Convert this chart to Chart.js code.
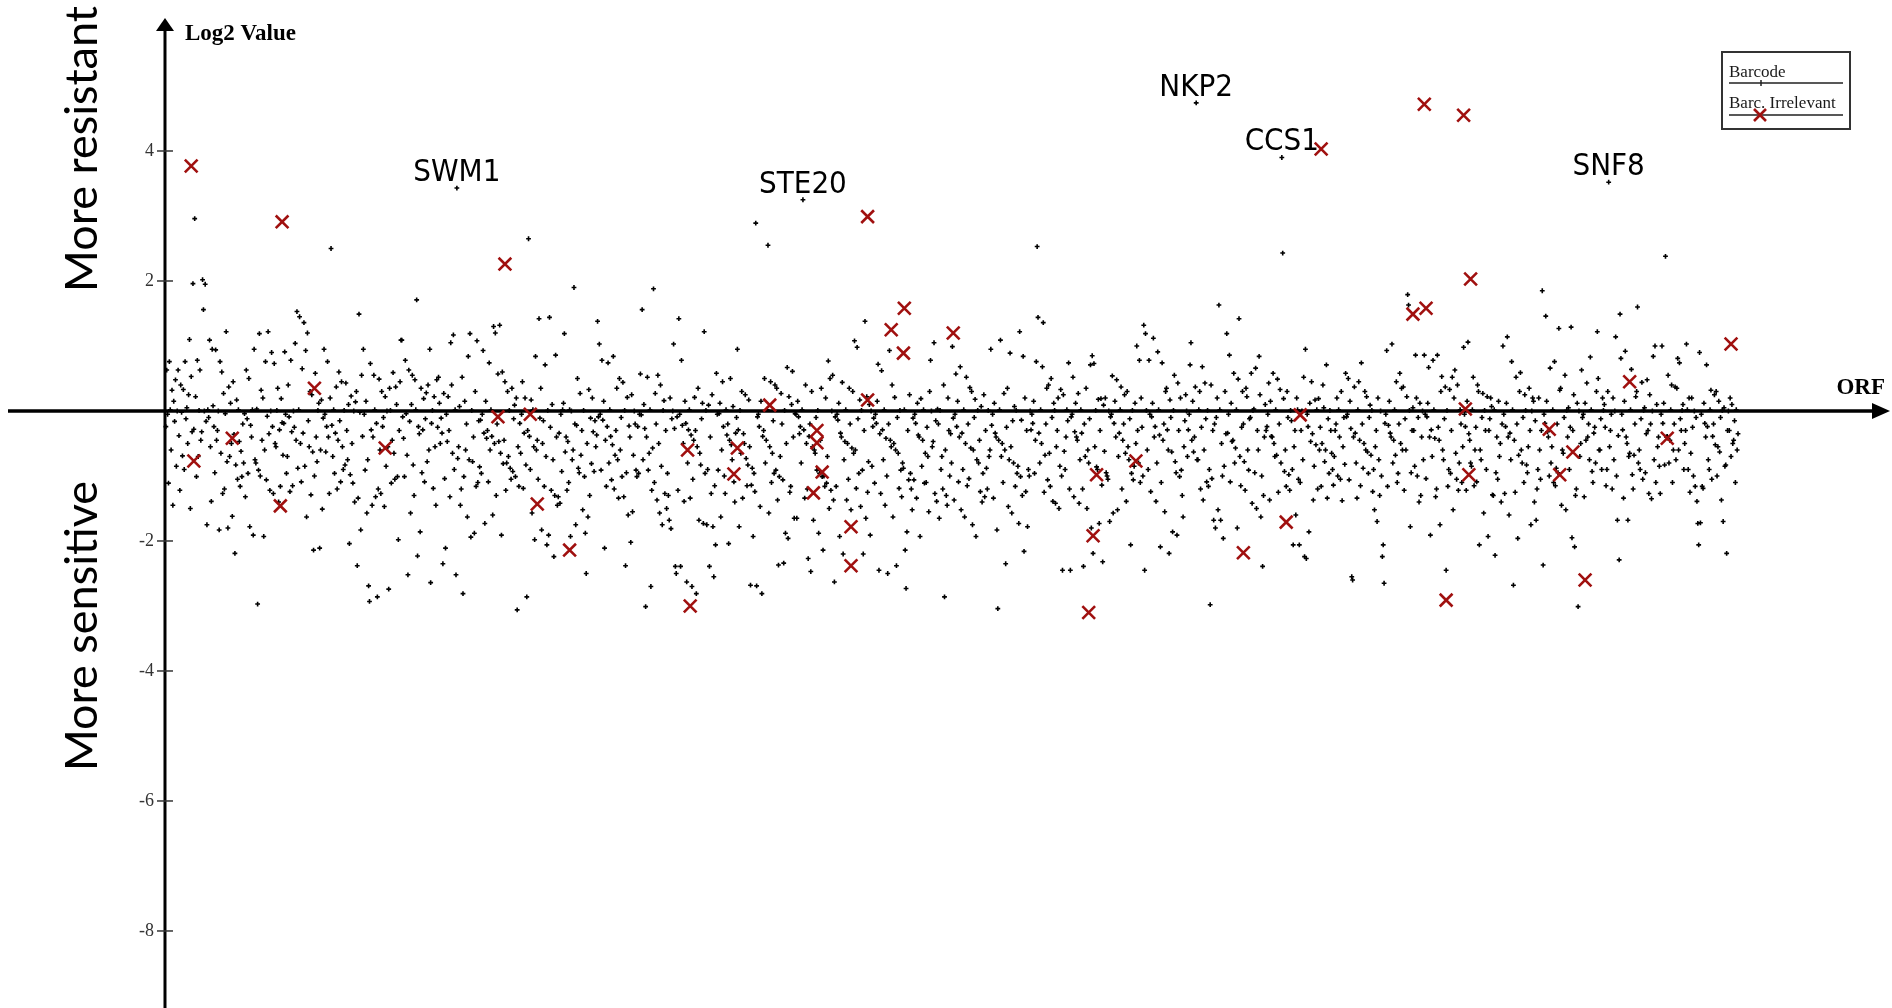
<!DOCTYPE html>
<html>
<head>
<meta charset="utf-8">
<title>Log2 Value / ORF</title>
<script src="https://cdn.jsdelivr.net/npm/chart.js@4.4.1/dist/chart.umd.min.js"></script>
<style>
  html, body { margin: 0; padding: 0; background: #fff; }
  #wrap { position: relative; width: 1892px; height: 1008px; }
</style>
</head>
<body>
<div id="wrap"><canvas id="orfChart"></canvas></div>
<script>
// Valeurs Log2 des barcodes, dans l'ordre des ORF (x = rang + 1)
const barcodeY = [
  -0.24, 0.63, -0.05, -1.11, 0.76, 0.02, -0.6, 0.32, -1.45, 0.15, -0.16, 0.48, -0.85, 0, 0.63, -0.38, -1.22, 0.4, -0.02, -0.69, 0.33, -0.9, 0.76, -0.12, 0.05, -0.5, 0.25, 1.1, -1.5, 0.53, -0.32, 1.96, -0.28, 2.96, 0.22, -1.01, 0.78, -0.7, 0.01, 0.63, -0.45, -0.32, 2.02, 1.56, 0,
  1.95, -0.16, -1.75, 0.02, -0.1, 1.09, -0.55, -1.39, 0.95, 0.08, -0.24, -0.95, 0.94, -0.45, -0.3, 0, -1.83, 0.76, -0.65, 0.6, -1.27, 0.27, -1.2, -0.04, 1.22, -0.78, -1.8, 0.37, -0.7, 0.12, -0.5, -1.62, 0.45, -0.36, -2.19, -0.83, 0.17, -1.05, 0.02, -0.47, -1.16, -0.62, -1.01, -0.2, -0.8,
  -0.04, -1.32, 0.63, -0.12, -0.96, 0.5, -1.78, -0.22, -0.4, 0.02, -1.91, 0.95, -0.75, -0.8, 0.03, -2.97, -0.91, 1.19, -1.0, 0.32, -0.45, 0.2, -1.93, -0.6, 0.76, -1.06, -0.08, 1.22, -0.35, -1.22, 0, 0.9, -0.24, -1.27, 0.73, -0.5, -0.55, 0.01, 0.35, -1.4, -0.29, -1.16, 0.19, -0.18, -0.68,
  -0.19, 0.91, -0.05, -0.96, -0.7, 0.4, -0.09, -1.24, 0.78, -0.32, -1.15, 0, -0.25, 1.04, -0.45, 1.53, -0.88, 0.02, 1.45, -0.5, -1.09, 0.65, -0.34, 1.36, -0.85, 0.93, -1.63, 1.2, -0.15, -0.55, 0.3, -1.29, 0.25, -0.63, -2.14, -1.0, 0.58, -0.4, -0.78, 0.01, 0.12, -2.11, -0.6, 0.17, -1.51,
  -0.11, 0.95, -0.05, -0.63, -0.24, 0.76, -0.4, -1.27, 0.2, 2.5, -0.22, -0.7, 0.02, -0.96, -0.34, 0.37, -1.2, -0.45, 0.6, -0.15, -1.09, 0.45, -0.55, -0.9, 0.01, -0.83, 0.43, -0.3, -0.75, 0.1, -2.04, -0.98, 0.23, -0.5, -1.11, 0, -1.4, 0.14, 0.3, -2.38, -1.34, 1.49, -0.02, -1.83, 0.55,
  -0.39, 0.95, -0.05, -0.91, 0.15, -1.57, -0.75, -2.69, -2.93, 0.73, -0.29, -1.45, -0.4, 0.55, 0.02, -1.32, -0.19, -2.86, -1.2, 0.49, -0.6, -1.27, 0.3, -0.24, -0.1, -1.47, 0.22, -0.85, 0, -0.55, -2.74, 0.35, 0.01, -1.11, -0.45, 0.59, -0.65, -1.05, 0.37, 0.1, -1.01, -1.98, -0.3, 0.45, 1.09,
  1.09, -0.09, -0.42, -1.01, 0.78, -0.04, -0.68, -2.52, 0.63, -0.16, -1.57, 0.1, 0.55, -0.83, -1.3, 0.48, 0.02, 1.71, -2.23, -0.24, -0.35, -1.86, 0.35, -0.95, -0.29, 0.19, -1.09, -0.12, 0.28, -0.78, 0.4, -0.6, 0.95, -2.64, -0.19, 0.01, -1.19, 0.22, -0.55, -1.45, 0.48, -0.25, 0.52, 0.12, -0.5,
  -0.11, -0.34, -2.35, 0.27, -1.04, -2.11, -0.05, -0.47, 0.22, -0.3, -1.32, 1.05, 0.4, -0.65, 1.17, -0.9, 0.02, -2.52, 3.43, -0.73, -0.55, 0.07, -1.45, -1.2, 0.52, -2.81, -1.01, 0.15, -0.6, -0.2, -1.63, 0.84, -0.75, 1.19, -1.94, 0.01, -0.78, -0.4, -1.88, 0.3, -1.16, 1.08, -1.1, -0.15, -0.86,
  -0.14, -0.96, -0.05, 0.93, -0.34, -1.73, 0.15, -0.42, -0.3, -1.09, 0.74, -0.6, 0.02, -0.39, -1.6, 1.3, -0.5, 1.2, -1.3, -0.2, 0.57, -0.47, 1.32, -0.65, -1.91, 0.6, -0.81, -0.45, 0.45, -1.22, -0.8, 0.3, -0.7, 0.01, -0.88, -1.05, 0.35, -0.93, -0.12, 0.09, -1.01, 0.2, -3.06, -0.55, -1.16,
  -0.19, -0.65, -0.05, 0.45, -1.19, -0.34, 0.2, -0.83, -2.86, -0.3, 2.65, -0.39, -0.9, 0.17, -1.57, 0.02, -0.55, -1.98, 0.84, -0.6, -0.45, -1.05, 1.42, -0.11, 0.35, -1.83, -0.5, -0.15, -1.16, 0.71, -0.7, -2.06, 0.01, -1.91, 1.44, -0.25, -1.22, 0.1, -0.75, -2.24, -1.3, 0.86, -0.4, -1.45, -1.32,
  -0.34, -1.42, -0.05, -0.93, 0.02, 0.12, 1.19, -0.63, -0.4, -1.22, -0.47, -1.1, 0.02, -1.93, 0, -0.75, -0.6, 1.9, -0.2, -1.75, -0.22, 0.5, -0.88, -0.95, 0.27, -0.68, -0.3, -1.52, 0.01, -1.01, -1.88, -2.5, -0.5, -1.63, 0.33, -1.3, -0.11, -0.81, 0.2, -0.32, -0.93, -0.15, -0.55, -0.37, 1.38,
  -0.09, 1.03, -0.05, -0.91, 0.78, -0.14, 0.15, -2.11, -0.45, -1.16, -0.24, 0.74, -0.8, 0.02, -0.39, -1.06, -0.52, 0.84, -1.2, -0.68, -0.3, 0.35, -0.75, -1.34, 0.5, -0.6, -0.1, -1.01, 0.44, -1.32, 0.01, -2.38, -0.95, 0.21, -1.6, -0.23, -0.4, -2.02, 0.25, -1.55, -0.68, 0, -0.2, -0.91, -1.01,
  -0.24, -0.96, -0.05, 0.57, -0.06, 1.56, -0.75, 0.1, -0.27, -3.01, -0.4, 0.52, -0.91, -0.65, 0.02, -2.7, -1.22, -0.57, 1.88, -1.1, 0.27, -0.2, -1.37, 0.55, -0.5, -1.57, 0.4, -0.85, -1.75, 0.01, 0.16, -1.27, -0.3, -1.5, -0.96, -1.3, -1.68, 0.2, -1.81, -0.12, 0, 1.03, -0.27, -2.39, -2.5,
  -0.09, -1.22, 1.42, -0.05, -2.39, 0.78, -0.22, -0.5, -1.39, 0.15, -0.19, -2.63, -0.8, -0.29, 0.02, -1.34, -0.37, -2.7, -1.05, -0.45, 0.21, -0.3, -2.81, -0.55, 0.35, -1.68, -0.65, -0.83, -0.12, 0.12, -1.73, 1.22, -0.96, 0.01, -1.75, -0.9, 0.09, -2.39, -0.4, -1.27, 0.25, -1.78, -2.55, -1.15, -2.06,
  0.58, -0.05, -0.91, -0.04, 0.12, -1.63, -0.6, 0.45, -0.24, -1.0, -1.27, 0.02, -0.37, -0.2, -2.04, -0.45, 0.5, -0.52, -0.75, 0.07, -1.09, -1.4, -0.34, -0.1, 0.95, -0.29, -1.78, 0.01, -0.65, 0.3, -1.34, -0.35, -0.5, 0.25, -0.73, -1.15, -0.83, 0.17, -0.55, -2.68, -1.14, -0.88, -1.93, -0.96, -1.24,
  2.89, -2.69, -0.09, -0.05, -0.24, -1.47, 0.15, -2.81, -0.39, -0.3, 0.5, -0.8, -0.45, 0.02, 2.55, -1.57, -0.55, 0.45, -1.1, -0.65, -0.15, -0.96, 0.4, -0.91, 0.35, -1.37, -2.37, -1.01, -0.7, 0.27, -0.2, -1.06, -2.34, 0.01, -1.88, -0.5, 0.67, -1.96, 0.22, -1.25, -1.16, 0.1, 0.61, -0.4, -1.65,
  -0.04, -0.05, -1.65, 0.15, -0.09, -0.35, -0.24, -0.8, 0.02, 3.25, -0.29, -1.34, 0.4, -0.5, -1.2, -2.27, -0.39, -0.2, -2.47, 0.3, -0.55, -1.68, -0.6, -0.65, -0.1, -0.91, 0.01, -1.88, -0.96, -0.45, 0.35, -1.01, -2.14, -1.0, -1.16, 0.2, -1.11, -0.7, 0.77, -1.5, 0.5, -1.22, 0, 0.55, -1.37,
  -2.63, -0.09, -1.16, -0.05, -0.14, 0.12, -1.93, -0.34, -0.4, 0.44, -2.2, -0.75, -0.47, 0.02, -1.37, -0.5, -1.05, 0.35, -0.2, -1.52, -0.57, 0.3, -0.65, 1.08, -0.6, -1.19, 0.98, -0.12, -0.96, 0.17, -1.47, 0.01, -0.91, -2.2, -0.3, 1.38, -1.65, 0.22, -1.25, -0.78, 0.1, -1.91, 0, -0.85, -0.24,
  -0.11, -1.11, -0.05, -0.19, 0.15, 0.72, -2.45, -0.35, -1.27, 0.62, -0.29, -0.75, 0.02, -1.45, -0.42, -1.0, -2.5, -0.2, 0.93, -0.45, -0.55, 0.4, -1.63, -0.5, 0.21, -0.6, -2.38, -0.1, -0.65, -1.19, 0.01, -0.91, -1.32, -0.8, -0.88, 0.02, -2.14, -2.73, -1.86, -0.3, -1.06, 0.25, -0.96, -1.2, -1.52,
  -0.11, -1.06, -0.05, -0.19, -1.34, 0.12, -0.37, -0.4, -1.93, 0.19, -0.85, -0.45, 0.02, -1.11, -0.65, -1.1, -0.25, -0.7, -1.55, 0.3, 0.78, 0, -0.55, -0.47, 1.05, -1.27, -0.15, -1.39, 0.03, -0.2, -1.65, 0.01, -0.9, -0.7, -1.2, 0.4, -2.86, -0.6, -1.3, -1.45, 0.2, -0.3, -1.0, -0.35, -0.8,
  0.99, -0.11, -1.37, -0.05, 0.57, -0.24, 0.15, -1.09, -0.4, 0.68, -1.52, -0.34, -0.9, 0.02, -1.63, -0.5, 0.52, -1.15, -0.2, -1.04, 0.36, -0.57, 0.3, -1.75, -0.6, -0.1, 0.18, -1.93, -0.75, 0.01, -0.8, -0.45, -1.24, 0.07, -1.4, -0.96, 0.25, -1.32, -0.3, -0.88, -1.2, 0.01, -0.7, -0.6, 0.95,
  -0.22, -0.05, -1.34, 0.12, -0.34, -0.4, -1.83, -3.04, -0.45, 0.02, 1.09, -0.7, -0.5, -1.1, 0.27, -0.6, -2.35, -0.25, 0.35, -1.47, -0.75, 0.89, -0.55, -1.57, -0.15, -0.8, 0.07, -1.16, 0.01, -0.96, -0.85, -1.73, 1.22, -1.01, -0.14, -1.3, 0.84, -2.16, 0.2, -1.24, -0.3, -1.78, -0.9, -1.0, 0,
  -0.29, -0.05, -0.19, 0.15, -0.96, -0.45, 0.76, 2.53, 1.44, -0.34, -0.8, 0.02, -0.5, 0.68, 1.36, -1.25, -0.68, -0.2, 0.35, -1.06, 0.4, -0.65, -1.16, 0.5, -0.1, -1.39, 0.12, 0.01, -1.42, -0.55, -0.3, 0.2, -1.5, -0.85, 0.33, -1.0, -2.45, 0.25, -0.62, -0.9, -0.4, 0.02, -0.15, 0.74, -1.2,
  -2.45, -0.09, -0.05, 0.52, -1.32, -0.32, 0.12, -0.4, -0.45, 0.27, -1.42, -0.75, 0.02, -0.34, -1.2, -2.39, -0.2, -0.7, 0.35, -1.5, -0.6, -0.8, -0.12, 0.71, -1.8, 0.85, -2.19, 0.73, -0.55, 0.01, -0.86, -0.9, 0.18, -1.73, -0.3, 0.19, -1.14, -2.32, 0.09, -0.62, 0.2, -0.95, -1.0, -1.05, 0,
  -1.7, -0.09, -0.05, 0.54, -1.57, -0.19, 0.15, -0.4, 0.48, -1.52, -0.7, -0.34, 0.02, 0.37, -1.2, -0.45, -0.2, 0.25, -0.65, -1.39, 0.3, -0.55, -0.75, -0.12, -2.06, -0.96, 0.01, -1.06, -0.85, 0.12, -0.5, 1.0, -0.3, -0.8, 0.78, -1.1, 0.2, -0.25, -1.0, 1.32, -2.45, 1.19, 0.01, -0.6, -0.9,
  0.78, -0.05, -1.24, -0.09, 0.12, 1.12, -0.4, -0.24, -1.39, -0.8, 0.91, 0.02, -0.37, -2.09, -1.1, 0.74, -0.45, -0.2, -1.55, 0.3, 0.35, -0.29, -0.6, -2.19, 0.17, -0.1, -0.63, -1.86, 0.01, 0.55, -0.78, -0.95, -1.91, 0.43, -0.3, -1.01, 0.2, -0.91, -1.3, -1.63, -0.55, -0.15, 0.25, 0, -0.7,
  -0.29, -0.05, 0.71, 1.05, -0.45, 0.15, -0.63, -0.4, 0.37, 4.74, -0.75, -0.75, 0.02, 0.3, -1.2, -0.25, 0.68, -1.37, -0.6, 0.43, -0.12, -1.09, 0.01, -1.16, -0.9, -2.98, 0.4, -1.04, -0.3, -1.68, -0.2, -1.8, -0.1, 0.2, -1.52, 1.63, 0.02, -1.68, -0.5, -1.0, -1.96, -0.85, 0.3, -0.35, 1.19,
  -0.34, -0.05, 0.86, -1.09, 0.12, -0.47, -0.45, 0.58, -0.8, -0.57, 0.02, -1.8, 0.49, 1.42, -0.7, -1.15, -0.25, 0.3, -0.2, -0.78, -1.22, 0.35, 0.22, -0.6, -0.91, -0.12, -0.1, 0.58, -1.42, 0.01, 0.03, -0.95, 0.66, -1.5, -0.3, -0.6, 0.84, 0.25, -1.63, -1.0, -2.39, -1.3, -0.4, 0.1, -0.3,
  -0.24, -0.05, 0.43, -1.37, 0.15, -0.39, -0.4, 0.58, -0.5, -0.7, 0.02, -0.68, 0.49, -1.25, -0.2, 0.33, -0.8, 3.9, 2.43, 0.19, -0.93, -0.6, -1.16, 0.3, -0.1, -0.98, -1.22, 0.01, -0.15, -0.9, -2.06, -0.55, -0.3, -1.6, 0.2, 0.02, -1.05, -2.06, -1.1, -0.3, 0, -0.75, 0.52, -2.24, 0.95,
  -2.27, -0.05, -0.24, -1.86, 0.12, -0.47, 0.45, -0.35, -1.37, -0.85, 0.17, -0.52, 0.02, -1.2, 0.19, -0.6, -0.25, -1.16, -0.5, 0.4, 0.05, -0.78, -0.6, 0.71, -1.34, -0.12, -0.96, 0.01, -0.3, -0.65, -0.9, -1.14, -0.7, -0.3, -0.2, 0.2, -1.0, 0.02, -0.4, -1.05, 0.3, -1.38, -0.55, -0.1, -0.82,
  0.58, -0.09, -0.05, 0.5, -1.06, 0.15, -0.27, -2.55, -2.6, -0.4, 0.37, -0.34, -0.8, -1.34, 0.02, 0.45, -0.45, -1.15, 0.74, -0.2, -0.88, -0.5, 0.3, -0.6, 0.22, -0.63, -0.96, -0.1, 0.09, -0.68, 0.01, -1.24, -0.9, -1.52, -0.55, -0.3, -1.7, 0.2, -0.75, -1.3, 0, -1.0, -2.24, -2.06, -2.65,
  -0.19, -0.05, 0.93, -1.16, -0.22, 0.15, -0.34, -0.4, 1.03, -0.8, -0.45, 0.02, -0.68, 0.45, -1.1, -0.96, -0.2, 0.58, -0.5, 0.35, -0.6, 0.37, -1.22, -0.12, -0.6, 0.22, 1.79, 1.63, 0.01, -1.78, -0.95, -0.3, 0.05, -0.3, -0.85, 0.86, 0.2, -1.0, -0.1, -1.4, 0.12, -1.3, -0.4, 0, -0.75,
  0.86, -0.05, -1.04, -0.09, 0.12, 0.67, -0.4, -1.91, -0.29, -0.7, 0.78, 0.02, -0.42, -1.32, -1.2, 0.86, -0.25, -0.45, -1.75, 0.3, 0.53, -0.6, -0.75, -0.12, 0.37, -2.45, 0.01, -1.16, -0.9, 0.33, -0.96, -0.3, 0.52, -1.52, 0.2, 0.63, -0.65, -1.05, 0.4, -1.22, -0.8, 0.02, -0.2, -1.1, -0.55,
  0.98, -0.05, -0.24, -1.22, 0.15, 1.06, -0.35, -0.45, -0.8, -0.85, 0.02, 0.52, -1.15, -0.6, -0.25, -1.09, 0.4, 0.3, -2.06, -0.6, -0.75, -0.1, 0.27, -1.57, 0.01, -0.3, -0.9, 0.22, -1.93, -0.3, -0.12, 0.2, 0.07, -1.29, -1.3, 0.02, -2.22, -0.95, -0.4, -1.05, 0.15, -0.7, -0.5, -1.4, -0.2,
  1.0, -0.05, -1.27, -0.24, 0.12, 1.14, -0.4, -1.6, -0.34, -0.75, 0.76, 0.02, -2.68, -0.45, -1.25, 0.52, -0.2, -1.96, -0.68, 0.3, 0.59, -0.6, -0.8, -0.1, -1.1, 0.25, 0.01, -0.83, -0.95, -0.55, 0.35, -0.3, -1.75, 0, 0.2, 0.15, -1.4, -0.15, -1.68, -1.2, -0.9, 0.2, -0.6, -1.05, -0.3,
  1.85, -2.37, -0.05, -0.19, 1.46, 0.15, -0.32, -0.4, -1.0, 0.66, -0.8, -0.55, 0.02, -1.1, 0.76, -1.15, -0.88, -0.2, -0.95, 1.27, 0.32, 0.35, -1.45, -0.6, -0.65, -0.1, 0.55, -1.52, 0.01, -0.4, 0.05, -0.9, -0.25, 1.29, -1.95, -0.3, 0.25, -2.09, -1.3, -1.2, 0.12, -3.01, 0, -0.7, -0.5,
  0.63, -0.1, -0.05, -1.32, 0.12, -0.45, 0.43, -0.4, -0.2, -0.75, 0.83, 0.02, -0.93, -1.1, -0.34, -0.25, -0.8, 0.3, 1.22, 0.5, -0.6, -0.6, -0.12, -0.9, 0.2, 0.01, 0.1, -0.25, -1.15, -0.9, 0.3, 3.52, -0.55, -0.3, -0.05, -1.2, 0.2, -0.75, 0, 1.14, -1.0, -1.68, -0.38, -2.29, 1.49,
  0.81, -0.05, -0.29, -1.34, 0.15, 0.92, -0.4, -0.5, -1.68, -0.7, -0.65, 0.02, 0.64, -0.98, -1.2, -0.68, -0.2, 0.22, 0.3, 1.6, -0.8, -0.6, -0.9, -0.12, 0.44, -1.05, 0.01, 0.05, -0.95, -0.35, 0.48, -0.3, -1.27, 0.25, -0.2, -1.35, 0, 0.84, -0.75, 1.0, -1.1, 0.1, -0.55, -0.4, -0.85,
  -1.27, -0.05, 1.0, -0.19, 0.12, -0.83, 2.38, -0.4, -0.39, 0.55, -0.8, -0.45, 0.02, 0.4, -1.1, -0.6, -0.2, 0.37, -0.75, 0.35, 0.81, -0.6, 0.74, -0.12, -0.3, 0.01, 0.1, -0.9, -0.5, -0.3, 1.03, 0.02, -0.9, 0.2, -1.25, -0.65, 0.2, -0.25, -1.0, 0, -1.16, -0.1, -1.39, -1.73, -2.06,
  0.9, -1.72, -0.05, -1.16, -1.19, 0.12, -0.19, -0.4, 0.71, -0.24, -0.75, -0.9, 0.02, 0.32, -1.05, -0.39, -0.2, 0.25, -0.52, 0.3, -1.0, -0.55, 0.15, -0.63, -0.1, -1.37, 0.01, -1.7, 0.05, -0.85, -0.83, -2.19, -0.3, 0, -0.3, 0.2, -0.7, 0.1, -0.5, -0.45, -0.15, -1.1, 0.02, -0.6, -0.35
];

// Barcodes "irrelevant" (croix rouges), position ORF et valeur Log2
const irrelevantX = [30, 33, 77, 134, 132, 171, 252, 389, 381, 418, 426, 463, 601, 598, 655, 651, 692, 746, 746, 752, 742, 785, 785, 804, 804, 831, 846, 845, 902, 1057, 1062, 1066, 1111, 1234, 1283, 1299, 1323, 1428, 1443, 1441, 1486, 1494, 1488, 1492, 1466, 1584, 1611, 1596, 1625, 1676, 1719, 1792];
const irrelevantY = [3.77, -0.77, -0.42, 2.91, -1.46, 0.35, -0.57, 2.26, -0.09, -0.05, -1.43, -2.14, -3.0, -0.6, -0.57, -0.97, 0.09, -0.3, -0.49, -0.94, -1.26, -1.78, -2.38, 2.99, 0.17, 1.25, 1.58, 0.89, 1.2, -3.1, -1.92, -0.98, -0.77, -2.18, -1.71, -0.06, 4.03, 1.49, 1.58, 4.72, 4.55, 2.03, 0.03, -0.98, -2.91, -0.28, -0.63, -0.98, -2.6, 0.45, -0.42, 1.03];

const yTicks = [4, 2, -2, -4, -6, -8];
const geneNames = ['SWM1', 'STE20', 'NKP2', 'CCS1', 'SNF8'];
const geneIndex = [333, 729, 1179, 1277, 1651];
const seriesLabels = ['Barcode', 'Barc. Irrelevant'];
const axisTitleY = 'Log2 Value';
const axisTitleX = 'ORF';
const sideLabels = ['More resistant', 'More sensitive'];

const RED = '#a0100f';

// Axes, titres, légende et noms de gènes
const orfDecor = {
    id: 'orfDecor',
    beforeDatasetsDraw(chart) {
        const c = chart.ctx;
        const { x, y } = chart.scales;
        const x0 = x.getPixelForValue(0);
        const y0 = y.getPixelForValue(0);
        c.save();
        c.strokeStyle = '#000';
        c.fillStyle = '#000';
        c.lineWidth = 3.5;
        // axe ORF
        c.beginPath(); c.moveTo(8, y0); c.lineTo(1876, y0); c.stroke();
        c.beginPath(); c.moveTo(1872, y0 - 8); c.lineTo(1890, y0); c.lineTo(1872, y0 + 8); c.closePath(); c.fill();
        // axe Log2
        c.lineWidth = 3;
        c.beginPath(); c.moveTo(x0, chart.height); c.lineTo(x0, 28); c.stroke();
        c.beginPath(); c.moveTo(x0 - 9, 31); c.lineTo(x0, 18); c.lineTo(x0 + 9, 31); c.closePath(); c.fill();
        // graduations
        c.lineWidth = 1.5;
        c.strokeStyle = '#333';
        c.fillStyle = '#333';
        c.font = '18px "Liberation Serif", "DejaVu Serif", serif';
        c.textAlign = 'right';
        c.textBaseline = 'middle';
        yTicks.forEach(v => {
            const py = y.getPixelForValue(v);
            c.beginPath(); c.moveTo(x0 - 8, py); c.lineTo(x0 + 8, py); c.stroke();
            c.fillText(String(v), x0 - 11, py);
        });
        // titres des axes
        c.fillStyle = '#000';
        c.font = 'bold 23px "Liberation Serif", serif';
        c.textBaseline = 'alphabetic';
        c.textAlign = 'left';
        c.fillText(axisTitleY, x0 + 20, 40);
        c.textAlign = 'right';
        c.fillText(axisTitleX, 1885, y0 - 17);
        // libellés verticaux
        c.font = '45px Lato, "Open Sans", sans-serif';
        c.textAlign = 'center';
        [[sideLabels[0], 149], [sideLabels[1], 626]].forEach(([txt, cy]) => {
            c.save();
            c.translate(97, cy);
            c.rotate(-Math.PI / 2);
            c.fillText(txt, 0, 0);
            c.restore();
        });
        c.restore();
    },
    afterDatasetsDraw(chart) {
        const c = chart.ctx;
        const { x, y } = chart.scales;
        c.save();
        // noms des gènes
        c.fillStyle = '#000';
        c.font = '31px "DejaVu Sans Condensed", "Noto Sans", sans-serif';
        c.textAlign = 'center';
        c.textBaseline = 'alphabetic';
        geneNames.forEach((g, k) => {
            const i = geneIndex[k];
            c.fillText(g, x.getPixelForValue(i + 1), y.getPixelForValue(barcodeY[i]) - 7);
        });
        // légende
        c.fillStyle = '#fff';
        c.fillRect(1722, 52, 128, 77);
        c.strokeStyle = '#333';
        c.lineWidth = 2;
        c.strokeRect(1722, 52, 128, 77);
        c.fillStyle = '#1a1a1a';
        c.font = '17px "Liberation Serif", serif';
        c.textAlign = 'left';
        c.fillText(seriesLabels[0], 1729, 77);
        c.fillText(seriesLabels[1], 1729, 108);
        c.strokeStyle = '#222';
        c.lineWidth = 1.5;
        c.beginPath();
        c.moveTo(1729, 83); c.lineTo(1843, 83);
        c.moveTo(1761, 80); c.lineTo(1761, 86);
        c.moveTo(1729, 115); c.lineTo(1843, 115);
        c.stroke();
        c.strokeStyle = RED;
        c.lineWidth = 2.6;
        c.beginPath();
        c.moveTo(1754, 109); c.lineTo(1766, 121);
        c.moveTo(1766, 109); c.lineTo(1754, 121);
        c.stroke();
        c.restore();
    }
};

const ctx = document.getElementById('orfChart').getContext('2d');
new Chart(ctx, {
    type: 'scatter',
    data: {
        datasets: [
            {
                label: seriesLabels[1],
                data: irrelevantX.map((v, i) => ({ x: v, y: irrelevantY[i] })),
                pointStyle: 'crossRot',
                radius: 9,
                borderColor: RED,
                borderWidth: 2.6,
                order: 0
            },
            {
                label: seriesLabels[0],
                data: barcodeY.map((v, i) => ({ x: i + 1, y: v })),
                pointStyle: 'cross',
                radius: 2.4,
                borderColor: '#000',
                borderWidth: 1.6,
                order: 1
            }
        ]
    },
    options: {
        responsive: true,
        maintainAspectRatio: false,
        animation: false,
        events: [],
        layout: { padding: 0, autoPadding: false },
        plugins: {
            legend: { display: false },
            tooltip: { enabled: false }
        },
        scales: {
            x: { type: 'linear', min: -188.8, max: 1976.2, display: false },
            y: { type: 'linear', min: -9.185, max: 6.323, display: false }
        }
    },
    plugins: [orfDecor]
});
</script>
</body>
</html>
